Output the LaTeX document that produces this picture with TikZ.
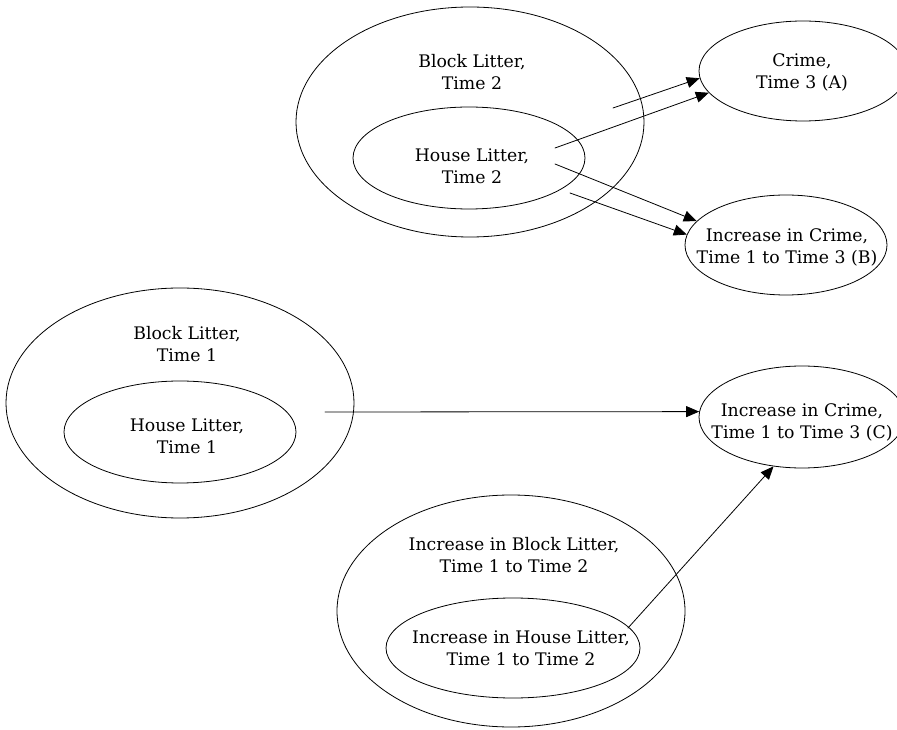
\documentclass[tikz,border=0pt]{standalone}
\usepackage{fontspec}
\setmainfont{DejaVu Serif}
\usetikzlibrary{arrows.meta}
\usetikzlibrary{shapes.geometric}

\begin{document}
\begin{tikzpicture}[line cap=round,line join=round,>={Triangle[length=13pt,width=11pt]},x=1pt,y=1pt,
        oval/.style={draw,ellipse,line width=0.8pt,inner sep=0pt},
        lbl/.style={align=center,inner sep=0pt,font=\fontsize{17.3}{22}\selectfont}]
        \useasboundingbox (0,0) rectangle (897,729);
        % time 2
        \node[oval,minimum width=348,minimum height=230] (blockB) at (470,607) {};
        \node[oval,minimum width=232,minimum height=102] (houseB) at (469,571) {};
        \node[lbl] (blockBtxt) at (472,657) {Block Litter,\\ Time 2};
        \node[lbl] (houseBtxt) at (472,563) {House Litter,\\ Time 2};
        \node[oval,minimum width=208,minimum height=100] (crimeA) at (803,658) {};
        \node[lbl] (crimeAtxt) at (802,657) {Crime,\\ Time 3 (A)};
        \node[oval,minimum width=202,minimum height=100] (incB) at (786,484) {};
        \node[lbl] (incBtxt) at (787,482) {Increase in Crime,\\ Time 1 to Time 3 (B)};
        % time 1
        \node[oval,minimum width=348,minimum height=230] (blockA) at (180,326) {};
        \node[oval,minimum width=232,minimum height=102] (houseA) at (180,297) {};
        \node[lbl] (blockAtxt) at (187,385) {Block Litter,\\ Time 1};
        \node[lbl] (houseAtxt) at (187,293) {House Litter,\\ Time 1};
        \node[oval,minimum width=206,minimum height=102] (incC) at (802,312) {};
        \node[lbl] (incCtxt) at (802,307) {Increase in Crime,\\ Time 1 to Time 3 (C)};
        % increase time 1 to time 2
        \node[oval,minimum width=348,minimum height=232] (blockC) at (511,118) {};
        \node[oval,minimum width=254,minimum height=100] (houseC) at (513,81) {};
        \node[lbl] (blockCtxt) at (514,174) {Increase in Block Litter,\\ Time 1 to Time 2};
        \node[lbl] (houseCtxt) at (521,81) {Increase in House Litter,\\ Time 1 to Time 2};
        % arrows
        \coordinate (a1) at (613,621);
        \coordinate (a2) at (555,581);
        \coordinate (b1) at (555,565);
        \coordinate (b2) at (570,536);
        \coordinate (c1) at (325,317);
        \coordinate (c2) at (628,101);
        \draw[->,line width=0.8pt] (a1) -- (crimeA.184);
        \draw[->,line width=0.8pt] (a2) -- (crimeA.193);
        \draw[->,line width=0.8pt] (b1) -- (incB.165);
        \draw[->,line width=0.8pt] (b2) -- (incB.174);
        \draw[->,line width=0.8pt] (c1) -- (incC.177);
        \draw[->,line width=0.8pt] (c2) -- (incC.240);
\end{tikzpicture}
\end{document}
